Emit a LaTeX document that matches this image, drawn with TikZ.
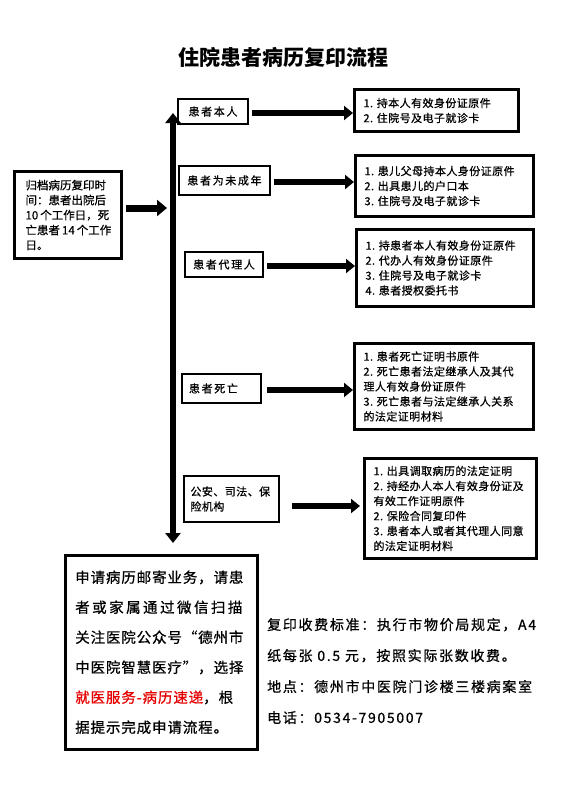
\documentclass[tikz,border=0pt]{standalone}
\usepackage{fontspec}
\setmainfont{Noto Sans CJK SC}
\newfontfamily\fL[FakeBold=0.7]{Noto Sans CJK SC}
\newfontfamily\fA[LetterSpace=4,FakeBold=0.7]{Noto Sans CJK SC}
\newfontfamily\fS[LetterSpace=15,FakeBold=0.7]{Noto Sans CJK SC}
\newfontfamily\fB[LetterSpace=6,FakeBold=0.7]{Noto Sans CJK SC}
\newfontfamily\fBw[LetterSpace=17,FakeBold=0.7]{Noto Sans CJK SC}
\newfontfamily\fI[LetterSpace=12,FakeBold=0.7]{Noto Sans CJK SC}
\usetikzlibrary{arrows.meta}
\definecolor{redtxt}{RGB}{230,0,0}
\tikzset{
  sbox/.style={draw, line width=2pt, anchor=north west, inner sep=0pt, align=center,
    font=\fS\fontsize{11}{15}\selectfont},
  rbox/.style={draw, line width=3pt, anchor=north west, inner xsep=9pt, inner ysep=0pt,
    align=left, font=\fA\fontsize{11}{15}\selectfont},
  harr/.style={line width=6pt, -{Triangle[length=9pt,width=14pt]}},
  varr/.style={line width=6.5pt, {Triangle[length=10pt,width=15pt]}-{Triangle[length=10pt,width=15pt]}},
}
\begin{document}
\begin{tikzpicture}[x=1pt,y=-1pt]
\useasboundingbox (0,0) rectangle (572,790);
\fill[white] (0,0) rectangle (572,790);

\node[font=\bfseries\fontsize{21}{25}\selectfont] (title) at (283,57) {住院患者病历复印流程};

% left box
\node[draw, line width=3pt, anchor=north west, minimum width=107, minimum height=87,
  inner xsep=11pt, inner ysep=0pt, text width=85, align=left,
  font=\fL\fontsize{11.5}{15}\selectfont] (L) at (13,170)
  {归档病历复印时\\间：患者出院后\\10\kern2pt 个工作日，死\\亡患者\kern2pt 14\kern2pt 个工作\\日。};

% category boxes
\node[sbox, minimum width=70, minimum height=25] (s1) at (177,98) {患者本人};
\node[sbox, minimum width=91, minimum height=29] (s2) at (178,165) {患者为未成年};
\node[sbox, minimum width=78, minimum height=25] (s3) at (184,251) {患者代理人};
\node[sbox, minimum width=79, minimum height=29, align=left, text width=65] (s4) at (181,373) {患者死亡};
\node[sbox, minimum width=95, minimum height=46, align=left, text width=82,
  font=\fA\fontsize{11}{15}\selectfont] (s5) at (183,475) {公安、司法、保\\险机构};

% requirement boxes
\node[rbox, minimum width=164, minimum height=42, text width=146] (r1) at (353,88)
  {1.~持本人有效身份证原件\\2.~住院号及电子就诊卡};
\node[rbox, minimum width=178, minimum height=61, text width=160] (r2) at (354,154)
  {1.~患儿父母持本人身份证原件\\2.~出具患儿的户口本\\3.~住院号及电子就诊卡};
\node[rbox, minimum width=177, minimum height=77, text width=159] (r3) at (355,228)
  {1.~持患者本人有效身份证原件\\2.~代办人有效身份证原件\\3.~住院号及电子就诊卡\\4.~患者授权委托书};
\node[rbox, minimum width=179, minimum height=86, text width=161] (r4) at (353,342)
  {1.~患者死亡证明书原件\\2.~死亡患者法定继承人及其代\\理人有效身份证原件\\3.~死亡患者与法定继承人关系\\的法定证明材料};
\node[rbox, minimum width=172, minimum height=100, text width=154] (r5) at (363,457)
  {1.~出具调取病历的法定证明\\2.~持经办人本人有效身份证及\\有效工作证明原件\\2.~保险合同复印件\\3.~患者本人或者其代理人同意\\的法定证明材料};

% bottom box
\node[draw, line width=2.5pt, anchor=north west, minimum width=190, minimum height=194,
  inner xsep=10pt, inner ysep=0pt, text width=172, align=left,
  font=\fB\fontsize{14.5}{30}\selectfont] (B) at (64,554)
  {申请病历邮寄业务，请患\\{\fBw 者或家属通过微信扫描}\\关注医院公众号“德州市\\中医院智慧医疗”，选择\\{\color{redtxt}就医服务-病历速递}，根\\据提示完成申请流程。};

% info text
\node[anchor=west, inner sep=0pt, align=left, font=\fI\fontsize{14}{31}\selectfont] (info) at (267,671)
  {复印收费标准：执行市物价局规定，A4\\纸每张~0.5~元，按照实际张数收费。\\地点：德州市中医院门诊楼三楼病案室\\电话：0534-7905007};

% vertical spine
\coordinate (vtop) at (173,113);
\coordinate (vbot) at (173,543);
\draw[varr] (vbot) -- (vtop);

% left arrow
\coordinate (lt) at (167,208);
\coordinate (la) at (L.east |- lt);
\draw[line width=7pt, -{Triangle[length=10pt,width=16pt]}] ([xshift=3pt]la) -- (lt);

% category arrows
\coordinate (a1) at ([xshift=3pt,yshift=-1.5pt]s1.east);
\draw[harr] (a1) -- (a1 -| r1.west);
\coordinate (a2) at ([xshift=3pt,yshift=-1.5pt]s2.east);
\draw[harr] (a2) -- (a2 -| r2.west);
\coordinate (a3) at ([xshift=3pt,yshift=-1.5pt]s3.east);
\draw[harr] (a3) -- (a3 -| r3.west);
\coordinate (a4) at ([xshift=5pt,yshift=-1.5pt]s4.east);
\draw[harr] (a4) -- (a4 -| r4.west);
\coordinate (a5) at ([xshift=12pt,yshift=-7pt]s5.east);
\draw[harr] (a5) -- ([xshift=-3pt]a5 -| r5.west);
\end{tikzpicture}
\end{document}
